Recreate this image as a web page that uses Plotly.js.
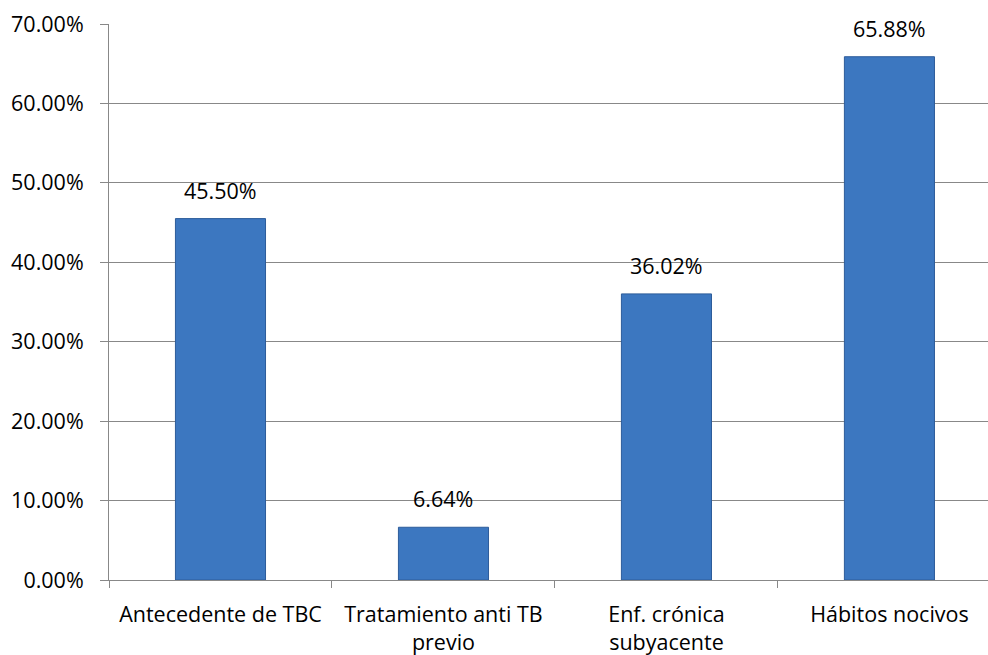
<!DOCTYPE html>
<html>
<head>
<meta charset="utf-8">
<script src="https://cdn.plot.ly/plotly-3.0.1.min.js"></script>
<style>html,body{margin:0;padding:0;background:#fff;}#chart{width:988px;height:655px;}</style>
</head>
<body>
<div id="chart"></div>
<script>
const categories = ["Antecedente de TBC", "Tratamiento anti TB<br>previo", "Enf. crónica<br>subyacente", "Hábitos nocivos"];
const values = [45.50, 6.64, 36.02, 65.88];
const valueLabels = ["45.50%", "6.64%", "36.02%", "65.88%"];
const yTicks = [0, 10, 20, 30, 40, 50, 60, 70];
const yTickLabels = ["0.00%", "10.00%", "20.00%", "30.00%", "40.00%", "50.00%", "60.00%", "70.00%"];

const font = "'Open Sans', sans-serif";
const fsize = 21.5;

const trace = {
  type: "bar",
  x: categories,
  y: values,
  marker: {color: "#3c77c0", line: {color: "#2d5c9a", width: 1}},
  hoverinfo: "skip"
};

const annotations = categories.map((c, i) => ({
  x: c, y: values[i], text: valueLabels[i], showarrow: false,
  xref: "x", yref: "y", yanchor: "bottom", yshift: 12,
  font: {family: font, size: fsize, color: "#000"}
}));

const layout = {
  width: 988, height: 655,
  margin: {l: 109, r: 0, t: 24, b: 75},
  paper_bgcolor: "#fff", plot_bgcolor: "#fff",
  bargap: 0.596,
  showlegend: false,
  font: {family: font, size: fsize, color: "#000"},
  xaxis: {
    type: "category",
    range: [-0.5, 3.442],
    showgrid: false,
    showline: true, linecolor: "#888", linewidth: 1,
    ticks: "outside", tickson: "boundaries", ticklen: 7, tickcolor: "#888",
    ticklabelstandoff: 15,
    tickfont: {family: font, size: fsize, color: "#000"},
    fixedrange: true
  },
  yaxis: {
    range: [0, 70],
    tickvals: yTicks, ticktext: yTickLabels,
    showgrid: true, gridcolor: "#888", gridwidth: 1,
    showline: true, linecolor: "#888", linewidth: 1,
    ticks: "outside", ticklen: 8, tickcolor: "#888",
    ticklabelstandoff: 12,
    zeroline: false,
    tickfont: {family: font, size: fsize, color: "#000"},
    fixedrange: true
  },
  annotations: annotations
};

Plotly.newPlot("chart", [trace], layout, {displayModeBar: false, staticPlot: true});
</script>
</body>
</html>
